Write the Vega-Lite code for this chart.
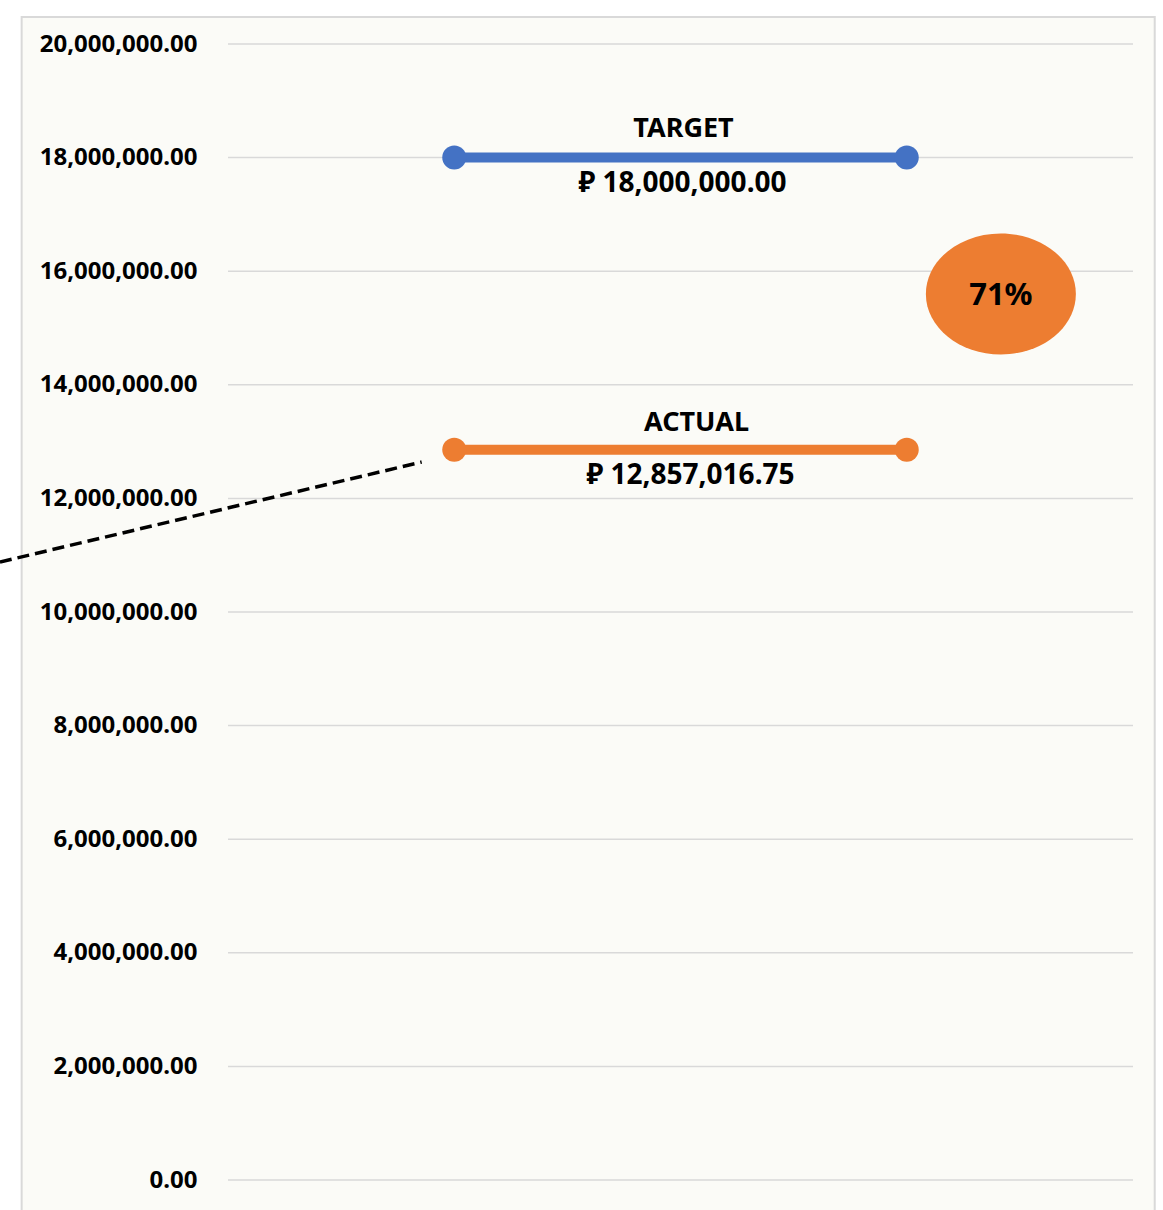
{
  "$schema": "https://vega.github.io/schema/vega-lite/v6.json",
  "width": 905,
  "height": 1136,
  "autosize": {"type": "none"},
  "padding": {"left": 228, "top": 44, "right": 30, "bottom": 30},
  "background": "white",
  "config": {"view": {"stroke": null}, "font": "Noto Sans"},
  "datasets": {
    "lines": [
      {"series": "TARGET", "x": 25, "value": 18000000},
      {"series": "TARGET", "x": 75, "value": 18000000},
      {"series": "ACTUAL", "x": 25, "value": 12857016.75},
      {"series": "ACTUAL", "x": 75, "value": 12857016.75}
    ],
    "labels": [
      {"series": "TARGET", "x": 50, "value": 18000000},
      {"series": "ACTUAL", "x": 50, "value": 12857016.75}
    ],
    "ticks": [
      {"v": 0}, {"v": 2000000}, {"v": 4000000}, {"v": 6000000}, {"v": 8000000},
      {"v": 10000000}, {"v": 12000000}, {"v": 14000000}, {"v": 16000000},
      {"v": 18000000}, {"v": 20000000}
    ],
    "pct": [{"x": 85.4, "value": 15600000, "pct": 0.7143}],
    "trend": [
      {"x": -25.2, "value": 10880000},
      {"x": 21.4, "value": 12640000}
    ]
  },
  "layer": [
    {
      "data": {"values": [{}]},
      "mark": {"type": "rect", "fill": "#FBFBF7", "stroke": "#D9D9D9", "strokeWidth": 2},
      "encoding": {
        "x": {"datum": -22.8, "type": "quantitative", "scale": {"domain": [0, 100], "nice": false, "zero": false}, "axis": null},
        "x2": {"datum": 102.4},
        "y": {"datum": 20475000, "type": "quantitative", "scale": {"domain": [0, 20000000], "nice": false}, "axis": {"values": [0, 2000000, 4000000, 6000000, 8000000, 10000000, 12000000, 14000000, 16000000, 18000000, 20000000], "format": ",.2f", "grid": false, "ticks": false, "domain": false, "labelPadding": 31, "labelFont": "Noto Sans", "labelFontWeight": "bold", "labelFontSize": 24, "labelColor": "#000000", "zindex": 1, "title": null}},
        "y2": {"datum": -1500000}
      }
    },
    {
      "data": {"name": "ticks"},
      "mark": {"type": "rule", "color": "#D9D9D9", "strokeWidth": 1.5},
      "encoding": {
        "x": {"datum": 0, "type": "quantitative"},
        "x2": {"datum": 100},
        "y": {"field": "v", "type": "quantitative"}
      }
    },
    {
      "data": {"name": "trend"},
      "mark": {"type": "line", "color": "#000000", "strokeWidth": 3.5, "strokeDash": [12, 6]},
      "encoding": {
        "x": {"field": "x", "type": "quantitative"},
        "y": {"field": "value", "type": "quantitative"}
      }
    },
    {
      "data": {"name": "lines"},
      "mark": {"type": "line", "strokeWidth": 10, "strokeCap": "butt"},
      "encoding": {
        "x": {"field": "x", "type": "quantitative"},
        "y": {"field": "value", "type": "quantitative"},
        "color": {"field": "series", "type": "nominal", "scale": {"domain": ["TARGET", "ACTUAL"], "range": ["#4472C4", "#ED7D31"]}, "legend": null}
      }
    },
    {
      "data": {"name": "lines"},
      "mark": {"type": "point", "filled": true, "opacity": 1, "size": 576, "shape": "circle"},
      "encoding": {
        "x": {"field": "x", "type": "quantitative"},
        "y": {"field": "value", "type": "quantitative"},
        "color": {"field": "series", "type": "nominal", "legend": null}
      }
    },
    {
      "data": {"name": "labels"},
      "transform": [{"filter": "datum.series === 'TARGET'"}],
      "mark": {"type": "text", "font": "Noto Sans", "fontWeight": "bold", "fontSize": 27, "color": "#000000", "baseline": "alphabetic", "align": "center", "dy": -21, "dx": 3},
      "encoding": {
        "x": {"field": "x", "type": "quantitative"},
        "y": {"field": "value", "type": "quantitative"},
        "text": {"field": "series"}
      }
    },
    {
      "data": {"name": "labels"},
      "transform": [{"filter": "datum.series === 'ACTUAL'"}],
      "mark": {"type": "text", "font": "Noto Sans", "fontWeight": "bold", "fontSize": 27, "color": "#000000", "baseline": "alphabetic", "align": "center", "dy": -19, "dx": 16},
      "encoding": {
        "x": {"field": "x", "type": "quantitative"},
        "y": {"field": "value", "type": "quantitative"},
        "text": {"field": "series"}
      }
    },
    {
      "data": {"name": "labels"},
      "transform": [{"filter": "datum.series === 'TARGET'"}, {"calculate": "'₽ ' + format(datum.value, ',.2f')", "as": "lbl"}],
      "mark": {"type": "text", "font": "Noto Sans", "fontWeight": "bold", "fontSize": 28, "color": "#000000", "baseline": "alphabetic", "align": "center", "dy": 34, "dx": 2},
      "encoding": {
        "x": {"field": "x", "type": "quantitative"},
        "y": {"field": "value", "type": "quantitative"},
        "text": {"field": "lbl"}
      }
    },
    {
      "data": {"name": "labels"},
      "transform": [{"filter": "datum.series === 'ACTUAL'"}, {"calculate": "'₽ ' + format(datum.value, ',.2f')", "as": "lbl"}],
      "mark": {"type": "text", "font": "Noto Sans", "fontWeight": "bold", "fontSize": 28, "color": "#000000", "baseline": "alphabetic", "align": "center", "dy": 34, "dx": 10},
      "encoding": {
        "x": {"field": "x", "type": "quantitative"},
        "y": {"field": "value", "type": "quantitative"},
        "text": {"field": "lbl"}
      }
    },
    {
      "data": {"name": "pct"},
      "mark": {"type": "point", "filled": true, "opacity": 1, "size": 22500, "color": "#ED7D31", "shape": "M-1,0A1,0.807,0,1,1,1,0A1,0.807,0,1,1,-1,0Z"},
      "encoding": {
        "x": {"field": "x", "type": "quantitative"},
        "y": {"field": "value", "type": "quantitative"}
      }
    },
    {
      "data": {"name": "pct"},
      "mark": {"type": "text", "font": "Noto Sans", "fontWeight": "bold", "fontSize": 31, "color": "#000000", "baseline": "middle", "align": "center", "dy": 2},
      "encoding": {
        "x": {"field": "x", "type": "quantitative"},
        "y": {"field": "value", "type": "quantitative"},
        "text": {"field": "pct", "type": "quantitative", "format": ".0%"}
      }
    }
  ]
}
